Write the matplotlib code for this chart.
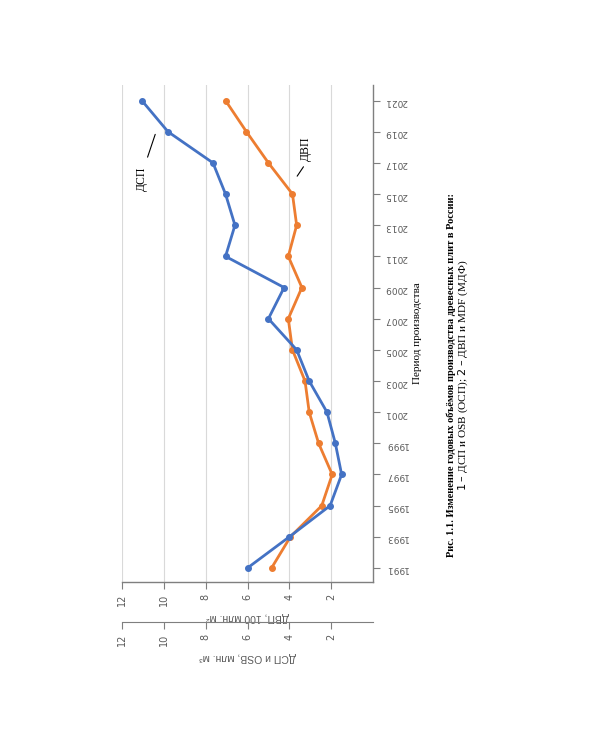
import matplotlib.pyplot as plt

years = [1991, 1993, 1995, 1997, 1999, 2001, 2003, 2005,
         2007, 2009, 2011, 2013, 2015, 2017, 2019, 2021]
dsp = [6.0, 4.0, 2.05, 1.5, 1.8, 2.2, 3.05, 3.65,
       5.0, 4.25, 7.05, 6.6, 7.05, 7.65, 9.8, 11.05]
dvp = [4.85, 3.95, 2.45, 1.95, 2.6, 3.05, 3.25, 3.85,
       4.05, 3.4, 4.05, 3.65, 3.85, 5.0, 6.05, 7.05]
value_ticks = [2, 4, 6, 8, 10, 12]

blue = '#4472C4'
orange = '#ED7D31'
axis_col = '#7f7f7f'
label_col = '#595959'


def main():
    fig = plt.figure(figsize=(6, 7.5), dpi=100)
    # chart is shown turned 90 degrees, so years go up and values go left
    ax = fig.add_axes([122/600, 1 - 582/750, 251/600, 497/750])
    ax.set_xlim(12, 0)
    ax.set_ylim(1990.1, 2022.0)

    for v in value_ticks:
        ax.axvline(v, color='#d9d9d9', lw=0.8, zorder=0)

    ax.plot(dsp, years, color=blue, lw=2, marker='o', ms=4, zorder=3)
    ax.plot(dvp, years, color=orange, lw=2, marker='o', ms=4, zorder=2)

    for s in ['top', 'left']:
        ax.spines[s].set_visible(False)
    for s in ['bottom', 'right']:
        ax.spines[s].set_color(axis_col)
        ax.spines[s].set_linewidth(1.0)

    ax.set_xticks(value_ticks)
    ax.tick_params(axis='x', direction='out', length=5, color=axis_col,
                   labelcolor=label_col, labelsize=7, labelrotation=90)
    ax.set_xlabel('ДВП, 100 млн. м²', rotation=180, fontsize=7.5,
                  color=label_col, labelpad=4, family='Liberation Sans')

    ax.yaxis.tick_right()
    ax.set_yticks(years)
    ax.tick_params(axis='y', direction='out', length=5, color=axis_col,
                   labelcolor=label_col, labelsize=6.5, labelrotation=180)
    ax.yaxis.set_label_position('right')
    ax.set_ylabel('Период производства', rotation=90, fontsize=8,
                  family='Liberation Serif', labelpad=4)

    ax2 = ax.twiny()
    ax2.set_xlim(12, 0)
    ax2.xaxis.set_ticks_position('bottom')
    ax2.xaxis.set_label_position('bottom')
    ax2.spines['bottom'].set_position(('outward', 29))
    for s in ['top', 'left', 'right']:
        ax2.spines[s].set_visible(False)
    ax2.spines['bottom'].set_color(axis_col)
    ax2.set_xticks(value_ticks)
    ax2.tick_params(axis='x', direction='out', length=5, color=axis_col,
                    labelcolor=label_col, labelsize=7, labelrotation=90)
    ax2.set_xlabel('ДСП и OSB, млн. м³', rotation=180, fontsize=7.5,
                   color=label_col, labelpad=4, family='Liberation Sans')

    ax.text(11.05, 2016.0, 'ДСП', rotation=90, ha='center', va='center',
            fontsize=8.5, family='Liberation Serif')
    ax.annotate('', xy=(10.37, 2019.0), xytext=(10.82, 2017.2),
                arrowprops=dict(arrowstyle='-', color='black', lw=0.8))
    ax.text(3.2, 2017.9, 'ДВП', rotation=90, ha='center', va='center',
            fontsize=8.5, family='Liberation Serif')
    ax.annotate('', xy=(3.25, 2016.9), xytext=(3.7, 2016.0),
                arrowprops=dict(arrowstyle='-', color='black', lw=0.8))

    fig.text(451/600, 1 - 375/750,
             'Рис. 1.1. Изменение годовых объёмов производства древесных плит в России:',
             rotation=90, ha='center', va='center', fontsize=7.5,
             fontweight='bold', family='Liberation Serif')
    fig.text(463/600, 1 - 375/750,
             r'$\it{1}$ – ДСП и OSB (ОСП); $\it{2}$ – ДВП и MDF (МДФ)',
             rotation=90, ha='center', va='center', fontsize=8.1,
             family='Liberation Serif')

    fig.savefig('out.png', dpi=100)


if __name__ == "__main__":
    main()
